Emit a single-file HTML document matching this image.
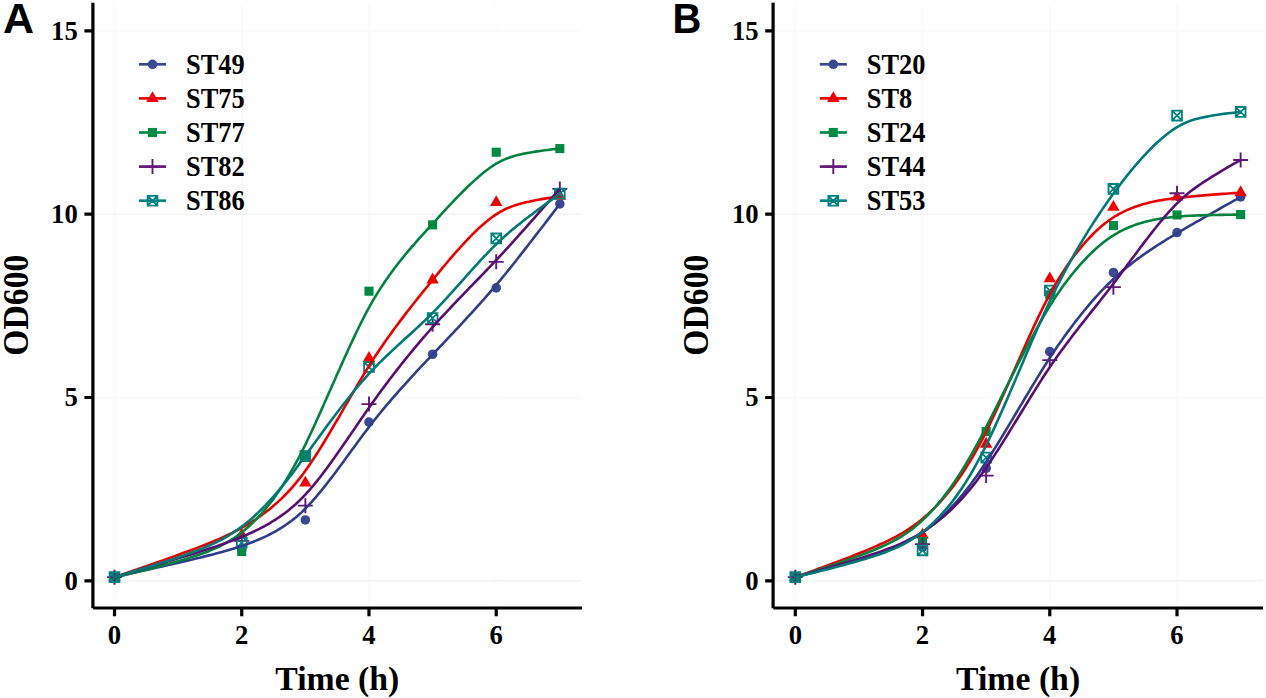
<!DOCTYPE html>
<html><head><meta charset="utf-8"><title>Growth curves</title>
<style>html,body{margin:0;padding:0;background:#fff;}body{width:1266px;height:698px;overflow:hidden;}svg{display:block;}</style>
</head><body>
<svg width="1266" height="698" viewBox="0 0 1266 698">
<rect width="1266" height="698" fill="#fff"/>
<path d="M94.40 397.50H582.10M94.40 30.90H582.10M114.50 2.70V606.80M241.74 2.70V606.80M368.98 2.70V606.80M496.22 2.70V606.80" stroke="#fbfbfb" stroke-width="1.8" fill="none"/>
<path d="M94.40 580.80H582.10M94.40 214.20H582.10" stroke="#f4f4f4" stroke-width="1.6" fill="none"/>
<circle cx="114.50" cy="577.13" r="4.8" fill="#3B4992"/>
<circle cx="241.74" cy="549.64" r="4.8" fill="#3B4992"/>
<circle cx="305.36" cy="519.94" r="4.8" fill="#3B4992"/>
<circle cx="368.98" cy="422.06" r="4.8" fill="#3B4992"/>
<circle cx="432.60" cy="354.24" r="4.8" fill="#3B4992"/>
<circle cx="496.22" cy="287.89" r="4.8" fill="#3B4992"/>
<circle cx="559.84" cy="203.94" r="4.8" fill="#3B4992"/>
<polygon points="114.50,569.87 120.70,580.77 108.30,580.77" fill="#EE0000"/>
<polygon points="241.74,527.71 247.94,538.61 235.54,538.61" fill="#EE0000"/>
<polygon points="305.36,475.65 311.56,486.55 299.16,486.55" fill="#EE0000"/>
<polygon points="368.98,351.01 375.18,361.91 362.78,361.91" fill="#EE0000"/>
<polygon points="432.60,272.55 438.80,283.45 426.40,283.45" fill="#EE0000"/>
<polygon points="496.22,195.20 502.42,206.10 490.02,206.10" fill="#EE0000"/>
<polygon points="559.84,188.97 566.04,199.87 553.64,199.87" fill="#EE0000"/>
<rect x="109.95" y="572.58" width="9.1" height="9.1" fill="#008B45"/>
<rect x="237.19" y="546.92" width="9.1" height="9.1" fill="#008B45"/>
<rect x="300.81" y="451.61" width="9.1" height="9.1" fill="#008B45"/>
<rect x="364.43" y="286.64" width="9.1" height="9.1" fill="#008B45"/>
<rect x="428.05" y="220.28" width="9.1" height="9.1" fill="#008B45"/>
<rect x="491.67" y="147.69" width="9.1" height="9.1" fill="#008B45"/>
<rect x="555.29" y="144.03" width="9.1" height="9.1" fill="#008B45"/>
<path d="M107.00 577.13H122.00M114.50 569.63V584.63" stroke="#631879" stroke-width="1.9" fill="none"/>
<path d="M234.24 540.84H249.24M241.74 533.34V548.34" stroke="#631879" stroke-width="1.9" fill="none"/>
<path d="M297.86 505.65H312.86M305.36 498.15V513.15" stroke="#631879" stroke-width="1.9" fill="none"/>
<path d="M361.48 404.10H376.48M368.98 396.60V411.60" stroke="#631879" stroke-width="1.9" fill="none"/>
<path d="M425.10 324.18H440.10M432.60 316.68V331.68" stroke="#631879" stroke-width="1.9" fill="none"/>
<path d="M488.72 261.86H503.72M496.22 254.36V269.36" stroke="#631879" stroke-width="1.9" fill="none"/>
<path d="M552.34 188.90H567.34M559.84 181.40V196.40" stroke="#631879" stroke-width="1.9" fill="none"/>
<path d="M109.60 572.23H119.40V582.03H109.60ZM109.60 572.23L119.40 582.03M109.60 582.03L119.40 572.23" stroke="#008280" stroke-width="1.8" fill="none"/>
<path d="M236.84 537.77H246.64V547.57H236.84ZM236.84 537.77L246.64 547.57M236.84 547.57L246.64 537.77" stroke="#008280" stroke-width="1.8" fill="none"/>
<path d="M300.46 451.26H310.26V461.06H300.46ZM300.46 451.26L310.26 461.06M300.46 461.06L310.26 451.26" stroke="#008280" stroke-width="1.8" fill="none"/>
<path d="M364.08 362.17H373.88V371.97H364.08ZM364.08 362.17L373.88 371.97M364.08 371.97L373.88 362.17" stroke="#008280" stroke-width="1.8" fill="none"/>
<path d="M427.70 313.05H437.50V322.85H427.70ZM427.70 313.05L437.50 322.85M427.70 322.85L437.50 313.05" stroke="#008280" stroke-width="1.8" fill="none"/>
<path d="M491.32 233.50H501.12V243.30H491.32ZM491.32 233.50L501.12 243.30M491.32 243.30L501.12 233.50" stroke="#008280" stroke-width="1.8" fill="none"/>
<path d="M554.94 188.77H564.74V198.57H554.94ZM554.94 188.77L564.74 198.57M554.94 198.57L564.74 188.77" stroke="#008280" stroke-width="1.8" fill="none"/>
<path d="M114.50 577.13 L114.54 577.13 L114.79 577.07 L115.44 576.93 L116.64 576.66 L118.50 576.25 L121.08 575.68 L124.40 574.94 L128.44 574.04 L133.12 573.00 L138.34 571.83 L143.98 570.56 L149.91 569.23 L155.98 567.85 L162.09 566.47 L168.13 565.09 L174.01 563.74 L179.67 562.42 L185.08 561.16 L190.21 559.95 L195.06 558.79 L199.62 557.68 L203.91 556.63 L207.94 555.62 L211.75 554.65 L215.34 553.71 L218.76 552.80 L222.02 551.90 L225.16 551.02 L228.19 550.15 L231.14 549.27 L234.02 548.40 L236.86 547.51 L239.67 546.61 L242.45 545.69 L245.21 544.74 L247.95 543.76 L250.69 542.75 L253.42 541.70 L256.13 540.61 L258.84 539.48 L261.53 538.30 L264.21 537.08 L266.86 535.82 L269.49 534.52 L272.08 533.17 L274.64 531.78 L277.15 530.35 L279.62 528.88 L282.04 527.37 L284.40 525.84 L286.71 524.27 L288.97 522.66 L291.17 521.03 L293.31 519.37 L295.41 517.67 L297.46 515.94 L299.47 514.17 L301.46 512.36 L303.41 510.50 L305.36 508.58 L307.31 506.60 L309.26 504.54 L311.23 502.39 L313.23 500.16 L315.26 497.85 L317.32 495.43 L319.41 492.93 L321.54 490.33 L323.70 487.65 L325.89 484.89 L328.11 482.05 L330.35 479.14 L332.61 476.18 L334.89 473.17 L337.17 470.12 L339.45 467.06 L341.73 463.98 L343.99 460.91 L346.23 457.85 L348.45 454.81 L350.64 451.81 L352.80 448.85 L354.93 445.94 L357.02 443.08 L359.08 440.28 L361.11 437.53 L363.11 434.84 L365.08 432.21 L367.03 429.62 L368.98 427.07 L370.93 424.55 L372.88 422.05 L374.85 419.55 L376.85 417.06 L378.88 414.55 L380.94 412.03 L383.03 409.50 L385.16 406.95 L387.32 404.38 L389.51 401.81 L391.73 399.22 L393.97 396.63 L396.23 394.04 L398.51 391.45 L400.79 388.88 L403.07 386.33 L405.35 383.80 L407.61 381.30 L409.85 378.83 L412.07 376.41 L414.26 374.03 L416.42 371.69 L418.55 369.40 L420.64 367.16 L422.70 364.97 L424.73 362.81 L426.73 360.69 L428.70 358.60 L430.65 356.54 L432.60 354.49 L434.55 352.43 L436.50 350.37 L438.47 348.29 L440.47 346.19 L442.50 344.05 L444.56 341.88 L446.65 339.66 L448.78 337.41 L450.94 335.12 L453.13 332.79 L455.35 330.42 L457.59 328.03 L459.85 325.60 L462.13 323.15 L464.41 320.69 L466.69 318.22 L468.97 315.74 L471.23 313.27 L473.47 310.81 L475.69 308.36 L477.88 305.93 L480.04 303.52 L482.17 301.13 L484.26 298.77 L486.32 296.43 L488.35 294.12 L490.35 291.82 L492.32 289.53 L494.27 287.24 L496.22 284.95 L498.17 282.65 L500.12 280.31 L502.09 277.93 L504.10 275.49 L506.16 272.97 L508.28 270.35 L510.48 267.61 L512.77 264.74 L515.17 261.71 L517.69 258.52 L520.33 255.16 L523.10 251.61 L526.00 247.90 L529.01 244.02 L532.11 240.02 L535.28 235.92 L538.47 231.79 L541.63 227.68 L544.70 223.69 L547.62 219.90 L550.31 216.39 L552.71 213.25 L554.78 210.55 L556.48 208.33 L557.80 206.60 L558.75 205.36 L559.36 204.56 L559.69 204.13 L559.82 203.96 L559.84 203.94" stroke="#2F3D8B" stroke-width="2.6" fill="none" stroke-linejoin="round"/>
<path d="M114.50 577.13 L114.54 577.12 L114.79 577.04 L115.44 576.81 L116.64 576.41 L118.50 575.77 L121.08 574.89 L124.40 573.75 L128.44 572.36 L133.12 570.75 L138.34 568.94 L143.98 566.98 L149.91 564.91 L155.98 562.78 L162.09 560.62 L168.13 558.48 L174.01 556.37 L179.67 554.32 L185.08 552.34 L190.21 550.44 L195.06 548.62 L199.62 546.88 L203.91 545.21 L207.94 543.60 L211.75 542.05 L215.34 540.54 L218.76 539.07 L222.02 537.63 L225.16 536.19 L228.19 534.76 L231.14 533.33 L234.02 531.88 L236.86 530.41 L239.67 528.92 L242.45 527.39 L245.21 525.82 L247.95 524.19 L250.69 522.52 L253.42 520.79 L256.13 519.00 L258.84 517.15 L261.53 515.25 L264.21 513.28 L266.86 511.25 L269.49 509.17 L272.08 507.04 L274.64 504.86 L277.15 502.64 L279.62 500.37 L282.04 498.07 L284.40 495.74 L286.71 493.38 L288.97 490.99 L291.17 488.57 L293.31 486.13 L295.41 483.67 L297.46 481.18 L299.47 478.66 L301.46 476.09 L303.41 473.49 L305.36 470.82 L307.31 468.08 L309.26 465.26 L311.23 462.35 L313.23 459.34 L315.26 456.22 L317.32 453.00 L319.41 449.68 L321.54 446.24 L323.70 442.72 L325.89 439.09 L328.11 435.39 L330.35 431.61 L332.61 427.78 L334.89 423.90 L337.17 419.99 L339.45 416.06 L341.73 412.13 L343.99 408.22 L346.23 404.34 L348.45 400.50 L350.64 396.71 L352.80 392.99 L354.93 389.34 L357.02 385.77 L359.08 382.28 L361.11 378.87 L363.11 375.54 L365.08 372.29 L367.03 369.10 L368.98 365.97 L370.93 362.89 L372.88 359.84 L374.85 356.80 L376.85 353.77 L378.88 350.74 L380.94 347.70 L383.03 344.65 L385.16 341.60 L387.32 338.53 L389.51 335.45 L391.73 332.38 L393.97 329.30 L396.23 326.23 L398.51 323.17 L400.79 320.14 L403.07 317.13 L405.35 314.16 L407.61 311.23 L409.85 308.34 L412.07 305.51 L414.26 302.73 L416.42 300.01 L418.55 297.34 L420.64 294.73 L422.70 292.18 L424.73 289.67 L426.73 287.21 L428.70 284.79 L430.65 282.39 L432.60 280.00 L434.55 277.62 L436.50 275.23 L438.47 272.83 L440.47 270.40 L442.50 267.95 L444.56 265.48 L446.65 262.99 L448.78 260.47 L450.94 257.94 L453.13 255.40 L455.35 252.85 L457.59 250.31 L459.85 247.79 L462.13 245.28 L464.41 242.81 L466.69 240.38 L468.97 238.01 L471.23 235.69 L473.47 233.44 L475.69 231.27 L477.88 229.18 L480.04 227.17 L482.17 225.26 L484.26 223.43 L486.32 221.70 L488.35 220.05 L490.35 218.50 L492.32 217.02 L494.27 215.64 L496.22 214.32 L498.17 213.08 L500.12 211.91 L502.09 210.81 L504.10 209.77 L506.16 208.79 L508.28 207.86 L510.48 206.98 L512.77 206.14 L515.17 205.33 L517.69 204.55 L520.33 203.80 L523.10 203.06 L526.00 202.35 L529.01 201.66 L532.11 200.99 L535.28 200.35 L538.47 199.73 L541.63 199.15 L544.70 198.61 L547.62 198.11 L550.31 197.67 L552.71 197.29 L554.78 196.97 L556.48 196.72 L557.80 196.52 L558.75 196.39 L559.36 196.30 L559.69 196.26 L559.82 196.24 L559.84 196.24" stroke="#EA0000" stroke-width="2.6" fill="none" stroke-linejoin="round"/>
<path d="M114.50 577.13 L114.54 577.13 L114.79 577.07 L115.44 576.92 L116.64 576.65 L118.50 576.23 L121.08 575.63 L124.40 574.86 L128.44 573.91 L133.12 572.80 L138.34 571.54 L143.98 570.16 L149.91 568.68 L155.98 567.14 L162.09 565.55 L168.13 563.95 L174.01 562.34 L179.67 560.74 L185.08 559.15 L190.21 557.59 L195.06 556.03 L199.62 554.50 L203.91 552.97 L207.94 551.44 L211.75 549.90 L215.34 548.34 L218.76 546.74 L222.02 545.11 L225.16 543.42 L228.19 541.68 L231.14 539.86 L234.02 537.98 L236.86 536.01 L239.67 533.96 L242.45 531.80 L245.21 529.54 L247.95 527.17 L250.69 524.68 L253.42 522.07 L256.13 519.34 L258.84 516.49 L261.53 513.52 L264.21 510.44 L266.86 507.26 L269.49 503.97 L272.08 500.60 L274.64 497.14 L277.15 493.61 L279.62 490.02 L282.04 486.37 L284.40 482.69 L286.71 478.97 L288.97 475.23 L291.17 471.46 L293.31 467.68 L295.41 463.89 L297.46 460.08 L299.47 456.25 L301.46 452.39 L303.41 448.49 L305.36 444.55 L307.31 440.53 L309.26 436.43 L311.23 432.24 L313.23 427.94 L315.26 423.53 L317.32 419.00 L319.41 414.36 L321.54 409.61 L323.70 404.77 L325.89 399.83 L328.11 394.82 L330.35 389.74 L332.61 384.63 L334.89 379.49 L337.17 374.34 L339.45 369.21 L341.73 364.12 L343.99 359.09 L346.23 354.13 L348.45 349.27 L350.64 344.51 L352.80 339.87 L354.93 335.37 L357.02 331.00 L359.08 326.77 L361.11 322.68 L363.11 318.73 L365.08 314.90 L367.03 311.21 L368.98 307.62 L370.93 304.13 L372.88 300.72 L374.85 297.38 L376.85 294.08 L378.88 290.83 L380.94 287.61 L383.03 284.42 L385.16 281.27 L387.32 278.14 L389.51 275.05 L391.73 271.98 L393.97 268.96 L396.23 265.97 L398.51 263.03 L400.79 260.14 L403.07 257.31 L405.35 254.53 L407.61 251.81 L409.85 249.16 L412.07 246.57 L414.26 244.05 L416.42 241.60 L418.55 239.21 L420.64 236.88 L422.70 234.61 L424.73 232.38 L426.73 230.20 L428.70 228.05 L430.65 225.91 L432.60 223.79 L434.55 221.67 L436.50 219.52 L438.47 217.36 L440.47 215.18 L442.50 212.96 L444.56 210.72 L446.65 208.46 L448.78 206.17 L450.94 203.86 L453.13 201.54 L455.35 199.21 L457.59 196.88 L459.85 194.56 L462.13 192.26 L464.41 189.99 L466.69 187.75 L468.97 185.56 L471.23 183.42 L473.47 181.35 L475.69 179.34 L477.88 177.41 L480.04 175.56 L482.17 173.79 L484.26 172.10 L486.32 170.50 L488.35 168.99 L490.35 167.55 L492.32 166.20 L494.27 164.93 L496.22 163.73 L498.17 162.60 L500.12 161.54 L502.09 160.54 L504.10 159.61 L506.16 158.74 L508.28 157.92 L510.48 157.15 L512.77 156.42 L515.17 155.72 L517.69 155.06 L520.33 154.43 L523.10 153.82 L526.00 153.24 L529.01 152.69 L532.11 152.16 L535.28 151.65 L538.47 151.17 L541.63 150.72 L544.70 150.31 L547.62 149.94 L550.31 149.61 L552.71 149.33 L554.78 149.10 L556.48 148.92 L557.80 148.78 L558.75 148.68 L559.36 148.62 L559.69 148.59 L559.82 148.58 L559.84 148.58" stroke="#00843D" stroke-width="2.6" fill="none" stroke-linejoin="round"/>
<path d="M114.50 577.13 L114.54 577.12 L114.79 577.05 L115.44 576.86 L116.64 576.51 L118.50 575.97 L121.08 575.22 L124.40 574.25 L128.44 573.07 L133.12 571.70 L138.34 570.17 L143.98 568.51 L149.91 566.76 L155.98 564.96 L162.09 563.15 L168.13 561.35 L174.01 559.58 L179.67 557.87 L185.08 556.23 L190.21 554.65 L195.06 553.15 L199.62 551.72 L203.91 550.36 L207.94 549.06 L211.75 547.82 L215.34 546.62 L218.76 545.46 L222.02 544.33 L225.16 543.22 L228.19 542.12 L231.14 541.02 L234.02 539.93 L236.86 538.83 L239.67 537.72 L242.45 536.58 L245.21 535.42 L247.95 534.23 L250.69 533.01 L253.42 531.74 L256.13 530.44 L258.84 529.10 L261.53 527.71 L264.21 526.28 L266.86 524.81 L269.49 523.29 L272.08 521.74 L274.64 520.14 L277.15 518.51 L279.62 516.85 L282.04 515.16 L284.40 513.43 L286.71 511.68 L288.97 509.91 L291.17 508.10 L293.31 506.27 L295.41 504.42 L297.46 502.53 L299.47 500.61 L301.46 498.65 L303.41 496.65 L305.36 494.59 L307.31 492.46 L309.26 490.27 L311.23 487.99 L313.23 485.62 L315.26 483.16 L317.32 480.60 L319.41 477.95 L321.54 475.20 L323.70 472.37 L325.89 469.45 L328.11 466.45 L330.35 463.38 L332.61 460.24 L334.89 457.06 L337.17 453.84 L339.45 450.59 L341.73 447.33 L343.99 444.07 L346.23 440.82 L348.45 437.59 L350.64 434.39 L352.80 431.23 L354.93 428.11 L357.02 425.04 L359.08 422.03 L361.11 419.07 L363.11 416.17 L365.08 413.31 L367.03 410.49 L368.98 407.70 L370.93 404.94 L372.88 402.18 L374.85 399.42 L376.85 396.65 L378.88 393.86 L380.94 391.06 L383.03 388.22 L385.16 385.37 L387.32 382.49 L389.51 379.59 L391.73 376.68 L393.97 373.77 L396.23 370.85 L398.51 367.94 L400.79 365.05 L403.07 362.17 L405.35 359.33 L407.61 356.53 L409.85 353.77 L412.07 351.06 L414.26 348.41 L416.42 345.82 L418.55 343.29 L420.64 340.82 L422.70 338.41 L424.73 336.06 L426.73 333.76 L428.70 331.51 L430.65 329.30 L432.60 327.11 L434.55 324.95 L436.50 322.79 L438.47 320.62 L440.47 318.45 L442.50 316.25 L444.56 314.04 L446.65 311.80 L448.78 309.54 L450.94 307.25 L453.13 304.95 L455.35 302.62 L457.59 300.27 L459.85 297.91 L462.13 295.55 L464.41 293.18 L466.69 290.82 L468.97 288.46 L471.23 286.13 L473.47 283.81 L475.69 281.51 L477.88 279.25 L480.04 277.01 L482.17 274.81 L484.26 272.64 L486.32 270.49 L488.35 268.38 L490.35 266.29 L492.32 264.21 L494.27 262.15 L496.22 260.09 L498.17 258.01 L500.12 255.92 L502.09 253.79 L504.10 251.61 L506.16 249.37 L508.28 247.05 L510.48 244.63 L512.77 242.09 L515.17 239.42 L517.69 236.61 L520.33 233.66 L523.10 230.55 L526.00 227.29 L529.01 223.90 L532.11 220.39 L535.28 216.81 L538.47 213.20 L541.63 209.62 L544.70 206.13 L547.62 202.82 L550.31 199.76 L552.71 197.02 L554.78 194.67 L556.48 192.73 L557.80 191.23 L558.75 190.15 L559.36 189.45 L559.69 189.07 L559.82 188.93 L559.84 188.90" stroke="#580F71" stroke-width="2.6" fill="none" stroke-linejoin="round"/>
<path d="M114.50 577.13 L114.54 577.12 L114.79 577.05 L115.44 576.86 L116.64 576.51 L118.50 575.97 L121.08 575.21 L124.40 574.22 L128.44 573.01 L133.12 571.60 L138.34 570.01 L143.98 568.28 L149.91 566.44 L155.98 564.53 L162.09 562.58 L168.13 560.62 L174.01 558.67 L179.67 556.75 L185.08 554.87 L190.21 553.03 L195.06 551.24 L199.62 549.49 L203.91 547.77 L207.94 546.07 L211.75 544.39 L215.34 542.72 L218.76 541.03 L222.02 539.33 L225.16 537.60 L228.19 535.82 L231.14 534.00 L234.02 532.12 L236.86 530.19 L239.67 528.18 L242.45 526.10 L245.21 523.95 L247.95 521.71 L250.69 519.39 L253.42 516.98 L256.13 514.50 L258.84 511.93 L261.53 509.29 L264.21 506.59 L266.86 503.83 L269.49 501.01 L272.08 498.15 L274.64 495.26 L277.15 492.35 L279.62 489.43 L282.04 486.50 L284.40 483.59 L286.71 480.68 L288.97 477.80 L291.17 474.94 L293.31 472.11 L295.41 469.32 L297.46 466.55 L299.47 463.82 L301.46 461.10 L303.41 458.41 L305.36 455.73 L307.31 453.04 L309.26 450.34 L311.23 447.62 L313.23 444.86 L315.26 442.07 L317.32 439.24 L319.41 436.37 L321.54 433.46 L323.70 430.51 L325.89 427.54 L328.11 424.54 L330.35 421.53 L332.61 418.51 L334.89 415.49 L337.17 412.48 L339.45 409.49 L341.73 406.54 L343.99 403.62 L346.23 400.76 L348.45 397.96 L350.64 395.21 L352.80 392.54 L354.93 389.94 L357.02 387.42 L359.08 384.97 L361.11 382.59 L363.11 380.29 L365.08 378.05 L367.03 375.87 L368.98 373.73 L370.93 371.64 L372.88 369.57 L374.85 367.52 L376.85 365.48 L378.88 363.44 L380.94 361.40 L383.03 359.36 L385.16 357.30 L387.32 355.24 L389.51 353.17 L391.73 351.09 L393.97 349.00 L396.23 346.91 L398.51 344.82 L400.79 342.73 L403.07 340.65 L405.35 338.57 L407.61 336.51 L409.85 334.46 L412.07 332.43 L414.26 330.42 L416.42 328.42 L418.55 326.45 L420.64 324.49 L422.70 322.55 L424.73 320.62 L426.73 318.69 L428.70 316.76 L430.65 314.83 L432.60 312.88 L434.55 310.89 L436.50 308.87 L438.47 306.81 L440.47 304.69 L442.50 302.52 L444.56 300.30 L446.65 298.02 L448.78 295.68 L450.94 293.30 L453.13 290.87 L455.35 288.40 L457.59 285.90 L459.85 283.37 L462.13 280.83 L464.41 278.27 L466.69 275.72 L468.97 273.19 L471.23 270.67 L473.47 268.19 L475.69 265.74 L477.88 263.34 L480.04 260.98 L482.17 258.69 L484.26 256.45 L486.32 254.27 L488.35 252.15 L490.35 250.09 L492.32 248.08 L494.27 246.12 L496.22 244.20 L498.17 242.32 L500.12 240.46 L502.09 238.63 L504.10 236.81 L506.16 234.98 L508.28 233.14 L510.48 231.27 L512.77 229.35 L515.17 227.38 L517.69 225.35 L520.33 223.25 L523.10 221.08 L526.00 218.83 L529.01 216.52 L532.11 214.16 L535.28 211.77 L538.47 209.38 L541.63 207.03 L544.70 204.75 L547.62 202.60 L550.31 200.62 L552.71 198.85 L554.78 197.34 L556.48 196.10 L557.80 195.15 L558.75 194.46 L559.36 194.02 L559.69 193.78 L559.82 193.68 L559.84 193.67" stroke="#007977" stroke-width="2.6" fill="none" stroke-linejoin="round"/>
<path d="M92.90 2.70V608.30" stroke="#000" stroke-width="3.2" fill="none"/>
<path d="M93.10 608.10H582.10" stroke="#000" stroke-width="3.0" fill="none"/>
<path d="M84.40 580.80H92.90M84.40 397.50H92.90M84.40 214.20H92.90M84.40 30.90H92.90M114.50 608.30V616.2M241.74 608.30V616.2M368.98 608.30V616.2M496.22 608.30V616.2" stroke="#000" stroke-width="3.2" fill="none"/>
<text transform="translate(77.80 589.60) scale(0.95 1)" text-anchor="end" style="font-family:&quot;Liberation Serif&quot;,serif;font-weight:bold;font-size:28.1px">0</text>
<text transform="translate(77.80 406.30) scale(0.95 1)" text-anchor="end" style="font-family:&quot;Liberation Serif&quot;,serif;font-weight:bold;font-size:28.1px">5</text>
<text transform="translate(77.80 223.00) scale(0.95 1)" text-anchor="end" style="font-family:&quot;Liberation Serif&quot;,serif;font-weight:bold;font-size:28.1px">10</text>
<text transform="translate(77.80 39.70) scale(0.95 1)" text-anchor="end" style="font-family:&quot;Liberation Serif&quot;,serif;font-weight:bold;font-size:28.1px">15</text>
<text transform="translate(114.50 644.00) scale(0.95 1)" text-anchor="middle" style="font-family:&quot;Liberation Serif&quot;,serif;font-weight:bold;font-size:28.1px">0</text>
<text transform="translate(241.74 644.00) scale(0.95 1)" text-anchor="middle" style="font-family:&quot;Liberation Serif&quot;,serif;font-weight:bold;font-size:28.1px">2</text>
<text transform="translate(368.98 644.00) scale(0.95 1)" text-anchor="middle" style="font-family:&quot;Liberation Serif&quot;,serif;font-weight:bold;font-size:28.1px">4</text>
<text transform="translate(496.22 644.00) scale(0.95 1)" text-anchor="middle" style="font-family:&quot;Liberation Serif&quot;,serif;font-weight:bold;font-size:28.1px">6</text>
<text transform="translate(337.30 689.50) scale(0.973 1)" text-anchor="middle" style="font-family:&quot;Liberation Serif&quot;,serif;font-weight:bold;font-size:34.7px">Time (h)</text>
<text transform="translate(27.50 305.20) rotate(-90) scale(0.955 1)" text-anchor="middle" style="font-family:&quot;Liberation Serif&quot;,serif;font-weight:bold;font-size:35.3px">OD600</text>
<path d="M139.00 64.30H166.10" stroke="#3B4992" stroke-width="2.7" fill="none"/>
<circle cx="152.50" cy="64.30" r="4.8" fill="#3B4992"/>
<text transform="translate(186.00 73.70) scale(0.93 1)" style="font-family:&quot;Liberation Serif&quot;,serif;font-weight:bold;font-size:28.4px">ST49</text>
<path d="M139.00 98.40H166.10" stroke="#EE0000" stroke-width="2.7" fill="none"/>
<polygon points="152.50,91.13 158.70,102.03 146.30,102.03" fill="#EE0000"/>
<text transform="translate(186.00 107.80) scale(0.93 1)" style="font-family:&quot;Liberation Serif&quot;,serif;font-weight:bold;font-size:28.4px">ST75</text>
<path d="M139.00 132.50H166.10" stroke="#008B45" stroke-width="2.7" fill="none"/>
<rect x="147.95" y="127.95" width="9.1" height="9.1" fill="#008B45"/>
<text transform="translate(186.00 141.90) scale(0.93 1)" style="font-family:&quot;Liberation Serif&quot;,serif;font-weight:bold;font-size:28.4px">ST77</text>
<path d="M139.00 166.60H166.10" stroke="#631879" stroke-width="2.7" fill="none"/>
<path d="M145.00 166.60H160.00M152.50 159.10V174.10" stroke="#631879" stroke-width="1.9" fill="none"/>
<text transform="translate(186.00 176.00) scale(0.93 1)" style="font-family:&quot;Liberation Serif&quot;,serif;font-weight:bold;font-size:28.4px">ST82</text>
<path d="M139.00 200.70H166.10" stroke="#008280" stroke-width="2.7" fill="none"/>
<path d="M147.60 195.80H157.40V205.60H147.60ZM147.60 195.80L157.40 205.60M147.60 205.60L157.40 195.80" stroke="#008280" stroke-width="1.8" fill="none"/>
<text transform="translate(186.00 210.10) scale(0.93 1)" style="font-family:&quot;Liberation Serif&quot;,serif;font-weight:bold;font-size:28.4px">ST86</text>
<path d="M774.60 397.50H1262.90M774.60 30.90H1262.90M795.30 2.70V606.80M922.54 2.70V606.80M1049.78 2.70V606.80M1177.02 2.70V606.80" stroke="#fbfbfb" stroke-width="1.8" fill="none"/>
<path d="M774.60 580.80H1262.90M774.60 214.20H1262.90" stroke="#f4f4f4" stroke-width="1.6" fill="none"/>
<circle cx="795.30" cy="577.13" r="4.8" fill="#3B4992"/>
<circle cx="922.54" cy="547.07" r="4.8" fill="#3B4992"/>
<circle cx="986.16" cy="468.25" r="4.8" fill="#3B4992"/>
<circle cx="1049.78" cy="351.67" r="4.8" fill="#3B4992"/>
<circle cx="1113.40" cy="272.49" r="4.8" fill="#3B4992"/>
<circle cx="1177.02" cy="232.53" r="4.8" fill="#3B4992"/>
<circle cx="1240.64" cy="196.97" r="4.8" fill="#3B4992"/>
<polygon points="795.30,569.87 801.50,580.77 789.10,580.77" fill="#EE0000"/>
<polygon points="922.54,527.71 928.74,538.61 916.34,538.61" fill="#EE0000"/>
<polygon points="986.16,436.79 992.36,447.69 979.96,447.69" fill="#EE0000"/>
<polygon points="1049.78,271.45 1055.98,282.35 1043.58,282.35" fill="#EE0000"/>
<polygon points="1113.40,199.97 1119.60,210.87 1107.20,210.87" fill="#EE0000"/>
<polygon points="1177.02,189.70 1183.22,200.60 1170.82,200.60" fill="#EE0000"/>
<polygon points="1240.64,185.30 1246.84,196.20 1234.44,196.20" fill="#EE0000"/>
<rect x="790.75" y="572.58" width="9.1" height="9.1" fill="#008B45"/>
<rect x="917.99" y="537.02" width="9.1" height="9.1" fill="#008B45"/>
<rect x="981.61" y="427.04" width="9.1" height="9.1" fill="#008B45"/>
<rect x="1045.23" y="290.30" width="9.1" height="9.1" fill="#008B45"/>
<rect x="1108.85" y="221.01" width="9.1" height="9.1" fill="#008B45"/>
<rect x="1172.47" y="210.38" width="9.1" height="9.1" fill="#008B45"/>
<rect x="1236.09" y="210.02" width="9.1" height="9.1" fill="#008B45"/>
<path d="M787.80 577.13H802.80M795.30 569.63V584.63" stroke="#631879" stroke-width="1.9" fill="none"/>
<path d="M915.04 544.14H930.04M922.54 536.64V551.64" stroke="#631879" stroke-width="1.9" fill="none"/>
<path d="M978.66 475.59H993.66M986.16 468.09V483.09" stroke="#631879" stroke-width="1.9" fill="none"/>
<path d="M1042.28 360.11H1057.28M1049.78 352.61V367.61" stroke="#631879" stroke-width="1.9" fill="none"/>
<path d="M1105.90 287.15H1120.90M1113.40 279.65V294.65" stroke="#631879" stroke-width="1.9" fill="none"/>
<path d="M1169.52 193.30H1184.52M1177.02 185.80V200.80" stroke="#631879" stroke-width="1.9" fill="none"/>
<path d="M1233.14 159.94H1248.14M1240.64 152.44V167.44" stroke="#631879" stroke-width="1.9" fill="none"/>
<path d="M790.40 572.23H800.20V582.03H790.40ZM790.40 572.23L800.20 582.03M790.40 582.03L800.20 572.23" stroke="#008280" stroke-width="1.8" fill="none"/>
<path d="M917.64 545.47H927.44V555.27H917.64ZM917.64 545.47L927.44 555.27M917.64 555.27L927.44 545.47" stroke="#008280" stroke-width="1.8" fill="none"/>
<path d="M981.26 452.72H991.06V462.52H981.26ZM981.26 452.72L991.06 462.52M981.26 462.52L991.06 452.72" stroke="#008280" stroke-width="1.8" fill="none"/>
<path d="M1044.88 285.55H1054.68V295.35H1044.88ZM1044.88 285.55L1054.68 295.35M1044.88 295.35L1054.68 285.55" stroke="#008280" stroke-width="1.8" fill="none"/>
<path d="M1108.50 184.00H1118.30V193.80H1108.50ZM1108.50 184.00L1118.30 193.80M1108.50 193.80L1118.30 184.00" stroke="#008280" stroke-width="1.8" fill="none"/>
<path d="M1172.12 110.68H1181.92V120.48H1172.12ZM1172.12 110.68L1181.92 120.48M1172.12 120.48L1181.92 110.68" stroke="#008280" stroke-width="1.8" fill="none"/>
<path d="M1235.74 107.02H1245.54V116.82H1235.74ZM1235.74 107.02L1245.54 116.82M1235.74 116.82L1245.54 107.02" stroke="#008280" stroke-width="1.8" fill="none"/>
<path d="M795.30 577.13 L795.34 577.12 L795.59 577.06 L796.24 576.89 L797.44 576.59 L799.30 576.11 L801.88 575.45 L805.20 574.58 L809.24 573.52 L813.92 572.29 L819.14 570.89 L824.78 569.37 L830.71 567.75 L836.78 566.07 L842.89 564.36 L848.93 562.63 L854.81 560.92 L860.47 559.22 L865.88 557.56 L871.01 555.94 L875.86 554.35 L880.42 552.79 L884.71 551.27 L888.74 549.76 L892.55 548.26 L896.14 546.77 L899.56 545.26 L902.82 543.74 L905.96 542.18 L908.99 540.59 L911.94 538.95 L914.82 537.26 L917.66 535.51 L920.47 533.70 L923.25 531.81 L926.01 529.85 L928.75 527.80 L931.49 525.67 L934.22 523.45 L936.93 521.15 L939.64 518.76 L942.33 516.28 L945.01 513.73 L947.66 511.11 L950.29 508.41 L952.88 505.66 L955.44 502.86 L957.95 500.02 L960.42 497.15 L962.84 494.24 L965.20 491.32 L967.51 488.39 L969.77 485.46 L971.97 482.52 L974.11 479.59 L976.21 476.66 L978.26 473.73 L980.27 470.81 L982.26 467.87 L984.21 464.93 L986.16 461.96 L988.11 458.95 L990.06 455.90 L992.03 452.78 L994.03 449.59 L996.06 446.33 L998.12 442.99 L1000.21 439.56 L1002.34 436.07 L1004.50 432.49 L1006.69 428.85 L1008.91 425.15 L1011.15 421.40 L1013.41 417.61 L1015.69 413.79 L1017.97 409.96 L1020.25 406.12 L1022.53 402.30 L1024.79 398.51 L1027.03 394.76 L1029.25 391.06 L1031.44 387.41 L1033.60 383.84 L1035.73 380.33 L1037.82 376.91 L1039.88 373.56 L1041.91 370.30 L1043.91 367.10 L1045.88 363.98 L1047.83 360.92 L1049.78 357.91 L1051.73 354.93 L1053.68 351.98 L1055.65 349.04 L1057.65 346.10 L1059.68 343.17 L1061.74 340.22 L1063.83 337.27 L1065.96 334.32 L1068.12 331.36 L1070.31 328.40 L1072.53 325.45 L1074.77 322.51 L1077.03 319.59 L1079.31 316.70 L1081.59 313.85 L1083.87 311.04 L1086.15 308.29 L1088.41 305.59 L1090.65 302.96 L1092.87 300.41 L1095.06 297.93 L1097.22 295.53 L1099.35 293.21 L1101.44 290.97 L1103.50 288.81 L1105.53 286.72 L1107.53 284.71 L1109.50 282.76 L1111.45 280.87 L1113.40 279.03 L1115.35 277.22 L1117.30 275.45 L1119.27 273.70 L1121.27 271.96 L1123.30 270.24 L1125.36 268.53 L1127.45 266.82 L1129.58 265.12 L1131.74 263.42 L1133.93 261.74 L1136.15 260.06 L1138.39 258.40 L1140.65 256.75 L1142.93 255.12 L1145.21 253.52 L1147.49 251.94 L1149.77 250.38 L1152.03 248.86 L1154.27 247.38 L1156.49 245.93 L1158.68 244.51 L1160.84 243.14 L1162.97 241.80 L1165.06 240.49 L1167.12 239.22 L1169.15 237.99 L1171.15 236.78 L1173.12 235.59 L1175.07 234.42 L1177.02 233.26 L1178.97 232.11 L1180.92 230.96 L1182.89 229.80 L1184.90 228.62 L1186.96 227.43 L1189.08 226.20 L1191.28 224.93 L1193.57 223.61 L1195.97 222.23 L1198.49 220.79 L1201.13 219.28 L1203.90 217.70 L1206.80 216.06 L1209.81 214.35 L1212.91 212.59 L1216.08 210.80 L1219.27 209.00 L1222.43 207.22 L1225.50 205.49 L1228.42 203.84 L1231.11 202.33 L1233.51 200.98 L1235.58 199.81 L1237.28 198.85 L1238.60 198.11 L1239.55 197.58 L1240.16 197.24 L1240.49 197.05 L1240.62 196.98 L1240.64 196.97" stroke="#2F3D8B" stroke-width="2.6" fill="none" stroke-linejoin="round"/>
<path d="M795.30 577.13 L795.34 577.12 L795.59 577.03 L796.24 576.80 L797.44 576.38 L799.30 575.72 L801.88 574.81 L805.20 573.62 L809.24 572.17 L813.92 570.47 L819.14 568.57 L824.78 566.49 L830.71 564.29 L836.78 562.01 L842.89 559.69 L848.93 557.36 L854.81 555.05 L860.47 552.79 L865.88 550.58 L871.01 548.42 L875.86 546.33 L880.42 544.30 L884.71 542.32 L888.74 540.37 L892.55 538.46 L896.14 536.56 L899.56 534.66 L902.82 532.76 L905.96 530.82 L908.99 528.86 L911.94 526.85 L914.82 524.79 L917.66 522.67 L920.47 520.48 L923.25 518.20 L926.01 515.84 L928.75 513.38 L931.49 510.82 L934.22 508.15 L936.93 505.38 L939.64 502.51 L942.33 499.53 L945.01 496.45 L947.66 493.28 L950.29 490.01 L952.88 486.67 L955.44 483.26 L957.95 479.78 L960.42 476.25 L962.84 472.67 L965.20 469.06 L967.51 465.41 L969.77 461.75 L971.97 458.06 L974.11 454.36 L976.21 450.64 L978.26 446.91 L980.27 443.15 L982.26 439.36 L984.21 435.54 L986.16 431.65 L988.11 427.70 L990.06 423.66 L992.03 419.51 L994.03 415.26 L996.06 410.89 L998.12 406.40 L1000.21 401.79 L1002.34 397.07 L1004.50 392.25 L1006.69 387.33 L1008.91 382.32 L1011.15 377.26 L1013.41 372.14 L1015.69 366.99 L1017.97 361.84 L1020.25 356.69 L1022.53 351.58 L1024.79 346.52 L1027.03 341.53 L1029.25 336.63 L1031.44 331.83 L1033.60 327.15 L1035.73 322.59 L1037.82 318.17 L1039.88 313.87 L1041.91 309.72 L1043.91 305.70 L1045.88 301.80 L1047.83 298.03 L1049.78 294.36 L1051.73 290.79 L1053.68 287.29 L1055.65 283.85 L1057.65 280.47 L1059.68 277.14 L1061.74 273.85 L1063.83 270.60 L1065.96 267.39 L1068.12 264.23 L1070.31 261.12 L1072.53 258.07 L1074.77 255.08 L1077.03 252.16 L1079.31 249.32 L1081.59 246.56 L1083.87 243.89 L1086.15 241.32 L1088.41 238.85 L1090.65 236.49 L1092.87 234.24 L1095.06 232.09 L1097.22 230.06 L1099.35 228.14 L1101.44 226.33 L1103.50 224.62 L1105.53 223.01 L1107.53 221.50 L1109.50 220.07 L1111.45 218.72 L1113.40 217.44 L1115.35 216.22 L1117.30 215.05 L1119.27 213.93 L1121.27 212.86 L1123.30 211.83 L1125.36 210.84 L1127.45 209.89 L1129.58 208.98 L1131.74 208.10 L1133.93 207.26 L1136.15 206.46 L1138.39 205.70 L1140.65 204.98 L1142.93 204.30 L1145.21 203.65 L1147.49 203.05 L1149.77 202.48 L1152.03 201.95 L1154.27 201.46 L1156.49 201.01 L1158.68 200.59 L1160.84 200.20 L1162.97 199.85 L1165.06 199.52 L1167.12 199.21 L1169.15 198.93 L1171.15 198.66 L1173.12 198.41 L1175.07 198.17 L1177.02 197.95 L1178.97 197.73 L1180.92 197.51 L1182.89 197.30 L1184.90 197.09 L1186.96 196.88 L1189.08 196.68 L1191.28 196.47 L1193.57 196.26 L1195.97 196.05 L1198.49 195.83 L1201.13 195.61 L1203.90 195.38 L1206.80 195.14 L1209.81 194.90 L1212.91 194.66 L1216.08 194.41 L1219.27 194.16 L1222.43 193.92 L1225.50 193.69 L1228.42 193.47 L1231.11 193.27 L1233.51 193.09 L1235.58 192.94 L1237.28 192.82 L1238.60 192.72 L1239.55 192.65 L1240.16 192.61 L1240.49 192.58 L1240.62 192.57 L1240.64 192.57" stroke="#EA0000" stroke-width="2.6" fill="none" stroke-linejoin="round"/>
<path d="M795.30 577.13 L795.34 577.12 L795.59 577.05 L796.24 576.85 L797.44 576.48 L799.30 575.90 L801.88 575.10 L805.20 574.06 L809.24 572.78 L813.92 571.28 L819.14 569.59 L824.78 567.74 L830.71 565.77 L836.78 563.72 L842.89 561.62 L848.93 559.50 L854.81 557.38 L860.47 555.29 L865.88 553.22 L871.01 551.19 L875.86 549.20 L880.42 547.23 L884.71 545.29 L888.74 543.36 L892.55 541.43 L896.14 539.50 L899.56 537.53 L902.82 535.53 L905.96 533.47 L908.99 531.36 L911.94 529.17 L914.82 526.91 L917.66 524.56 L920.47 522.12 L923.25 519.57 L926.01 516.92 L928.75 514.15 L931.49 511.26 L934.22 508.25 L936.93 505.13 L939.64 501.89 L942.33 498.55 L945.01 495.10 L947.66 491.56 L950.29 487.94 L952.88 484.25 L955.44 480.49 L957.95 476.70 L960.42 472.86 L962.84 469.01 L965.20 465.14 L967.51 461.27 L969.77 457.41 L971.97 453.57 L974.11 449.74 L976.21 445.94 L978.26 442.16 L980.27 438.39 L982.26 434.64 L984.21 430.89 L986.16 427.13 L988.11 423.35 L990.06 419.52 L992.03 415.64 L994.03 411.69 L996.06 407.67 L998.12 403.57 L1000.21 399.40 L1002.34 395.16 L1004.50 390.85 L1006.69 386.48 L1008.91 382.06 L1011.15 377.61 L1013.41 373.13 L1015.69 368.64 L1017.97 364.16 L1020.25 359.71 L1022.53 355.29 L1024.79 350.93 L1027.03 346.64 L1029.25 342.43 L1031.44 338.32 L1033.60 334.30 L1035.73 330.40 L1037.82 326.61 L1039.88 322.93 L1041.91 319.36 L1043.91 315.90 L1045.88 312.54 L1047.83 309.28 L1049.78 306.09 L1051.73 302.98 L1053.68 299.91 L1055.65 296.89 L1057.65 293.90 L1059.68 290.94 L1061.74 288.00 L1063.83 285.09 L1065.96 282.20 L1068.12 279.35 L1070.31 276.52 L1072.53 273.74 L1074.77 271.00 L1077.03 268.31 L1079.31 265.68 L1081.59 263.12 L1083.87 260.63 L1086.15 258.23 L1088.41 255.90 L1090.65 253.67 L1092.87 251.54 L1095.06 249.50 L1097.22 247.56 L1099.35 245.72 L1101.44 243.98 L1103.50 242.33 L1105.53 240.77 L1107.53 239.30 L1109.50 237.91 L1111.45 236.59 L1113.40 235.34 L1115.35 234.15 L1117.30 233.01 L1119.27 231.91 L1121.27 230.86 L1123.30 229.85 L1125.36 228.88 L1127.45 227.94 L1129.58 227.05 L1131.74 226.19 L1133.93 225.36 L1136.15 224.58 L1138.39 223.84 L1140.65 223.13 L1142.93 222.47 L1145.21 221.84 L1147.49 221.26 L1149.77 220.71 L1152.03 220.21 L1154.27 219.74 L1156.49 219.31 L1158.68 218.92 L1160.84 218.56 L1162.97 218.24 L1165.06 217.94 L1167.12 217.67 L1169.15 217.43 L1171.15 217.21 L1173.12 217.00 L1175.07 216.82 L1177.02 216.64 L1178.97 216.48 L1180.92 216.33 L1182.89 216.19 L1184.90 216.05 L1186.96 215.93 L1189.08 215.81 L1191.28 215.70 L1193.57 215.60 L1195.97 215.50 L1198.49 215.41 L1201.13 215.33 L1203.90 215.24 L1206.80 215.17 L1209.81 215.09 L1212.91 215.02 L1216.08 214.95 L1219.27 214.89 L1222.43 214.83 L1225.50 214.78 L1228.42 214.74 L1231.11 214.69 L1233.51 214.66 L1235.58 214.63 L1237.28 214.61 L1238.60 214.59 L1239.55 214.58 L1240.16 214.57 L1240.49 214.57 L1240.62 214.57 L1240.64 214.57" stroke="#00843D" stroke-width="2.6" fill="none" stroke-linejoin="round"/>
<path d="M795.30 577.13 L795.34 577.12 L795.59 577.05 L796.24 576.88 L797.44 576.55 L799.30 576.03 L801.88 575.32 L805.20 574.39 L809.24 573.26 L813.92 571.94 L819.14 570.45 L824.78 568.84 L830.71 567.12 L836.78 565.35 L842.89 563.54 L848.93 561.73 L854.81 559.94 L860.47 558.18 L865.88 556.47 L871.01 554.80 L875.86 553.18 L880.42 551.61 L884.71 550.08 L888.74 548.58 L892.55 547.11 L896.14 545.65 L899.56 544.19 L902.82 542.73 L905.96 541.25 L908.99 539.75 L911.94 538.21 L914.82 536.64 L917.66 535.03 L920.47 533.36 L923.25 531.63 L926.01 529.84 L928.75 527.98 L931.49 526.04 L934.22 524.03 L936.93 521.95 L939.64 519.79 L942.33 517.55 L945.01 515.25 L947.66 512.88 L950.29 510.44 L952.88 507.96 L955.44 505.42 L957.95 502.85 L960.42 500.24 L962.84 497.60 L965.20 494.94 L967.51 492.26 L969.77 489.58 L971.97 486.88 L974.11 484.18 L976.21 481.48 L978.26 478.77 L980.27 476.05 L982.26 473.31 L984.21 470.56 L986.16 467.76 L988.11 464.93 L990.06 462.03 L992.03 459.07 L994.03 456.03 L996.06 452.91 L998.12 449.70 L1000.21 446.42 L1002.34 443.05 L1004.50 439.60 L1006.69 436.08 L1008.91 432.50 L1011.15 428.86 L1013.41 425.18 L1015.69 421.47 L1017.97 417.74 L1020.25 414.02 L1022.53 410.30 L1024.79 406.61 L1027.03 402.95 L1029.25 399.35 L1031.44 395.80 L1033.60 392.32 L1035.73 388.91 L1037.82 385.58 L1039.88 382.34 L1041.91 379.17 L1043.91 376.07 L1045.88 373.05 L1047.83 370.10 L1049.78 367.19 L1051.73 364.33 L1053.68 361.50 L1055.65 358.68 L1057.65 355.86 L1059.68 353.04 L1061.74 350.20 L1063.83 347.36 L1065.96 344.49 L1068.12 341.61 L1070.31 338.72 L1072.53 335.81 L1074.77 332.89 L1077.03 329.97 L1079.31 327.04 L1081.59 324.13 L1083.87 321.23 L1086.15 318.34 L1088.41 315.48 L1090.65 312.65 L1092.87 309.86 L1095.06 307.09 L1097.22 304.37 L1099.35 301.69 L1101.44 299.04 L1103.50 296.43 L1105.53 293.84 L1107.53 291.29 L1109.50 288.75 L1111.45 286.21 L1113.40 283.67 L1115.35 281.11 L1117.30 278.52 L1119.27 275.89 L1121.27 273.21 L1123.30 270.49 L1125.36 267.71 L1127.45 264.89 L1129.58 262.02 L1131.74 259.10 L1133.93 256.15 L1136.15 253.17 L1138.39 250.17 L1140.65 247.15 L1142.93 244.14 L1145.21 241.14 L1147.49 238.17 L1149.77 235.22 L1152.03 232.33 L1154.27 229.49 L1156.49 226.71 L1158.68 224.00 L1160.84 221.38 L1162.97 218.83 L1165.06 216.38 L1167.12 214.00 L1169.15 211.72 L1171.15 209.52 L1173.12 207.40 L1175.07 205.36 L1177.02 203.39 L1178.97 201.47 L1180.92 199.61 L1182.89 197.81 L1184.90 196.04 L1186.96 194.30 L1189.08 192.57 L1191.28 190.85 L1193.57 189.12 L1195.97 187.38 L1198.49 185.60 L1201.13 183.80 L1203.90 181.95 L1206.80 180.07 L1209.81 178.16 L1212.91 176.22 L1216.08 174.27 L1219.27 172.34 L1222.43 170.45 L1225.50 168.64 L1228.42 166.93 L1231.11 165.37 L1233.51 163.98 L1235.58 162.80 L1237.28 161.83 L1238.60 161.09 L1239.55 160.55 L1240.16 160.21 L1240.49 160.03 L1240.62 159.95 L1240.64 159.94" stroke="#580F71" stroke-width="2.6" fill="none" stroke-linejoin="round"/>
<path d="M795.30 577.13 L795.34 577.13 L795.59 577.07 L796.24 576.92 L797.44 576.63 L799.30 576.20 L801.88 575.58 L805.20 574.79 L809.24 573.81 L813.92 572.66 L819.14 571.36 L824.78 569.94 L830.71 568.42 L836.78 566.84 L842.89 565.22 L848.93 563.58 L854.81 561.93 L860.47 560.30 L865.88 558.68 L871.01 557.09 L875.86 555.52 L880.42 553.97 L884.71 552.43 L888.74 550.89 L892.55 549.35 L896.14 547.78 L899.56 546.20 L902.82 544.57 L905.96 542.90 L908.99 541.17 L911.94 539.37 L914.82 537.51 L917.66 535.58 L920.47 533.55 L923.25 531.43 L926.01 529.21 L928.75 526.88 L931.49 524.43 L934.22 521.87 L936.93 519.18 L939.64 516.38 L942.33 513.47 L945.01 510.44 L947.66 507.31 L950.29 504.08 L952.88 500.75 L955.44 497.35 L957.95 493.87 L960.42 490.33 L962.84 486.74 L965.20 483.10 L967.51 479.42 L969.77 475.72 L971.97 471.99 L974.11 468.24 L976.21 464.48 L978.26 460.69 L980.27 456.88 L982.26 453.04 L984.21 449.16 L986.16 445.22 L988.11 441.21 L990.06 437.11 L992.03 432.90 L994.03 428.58 L996.06 424.14 L998.12 419.58 L1000.21 414.88 L1002.34 410.07 L1004.50 405.14 L1006.69 400.11 L1008.91 394.98 L1011.15 389.77 L1013.41 384.50 L1015.69 379.18 L1017.97 373.83 L1020.25 368.49 L1022.53 363.15 L1024.79 357.85 L1027.03 352.61 L1029.25 347.43 L1031.44 342.34 L1033.60 337.35 L1035.73 332.47 L1037.82 327.69 L1039.88 323.04 L1041.91 318.50 L1043.91 314.07 L1045.88 309.75 L1047.83 305.53 L1049.78 301.39 L1051.73 297.31 L1053.68 293.28 L1055.65 289.28 L1057.65 285.29 L1059.68 281.31 L1061.74 277.33 L1063.83 273.35 L1065.96 269.37 L1068.12 265.39 L1070.31 261.41 L1072.53 257.44 L1074.77 253.50 L1077.03 249.57 L1079.31 245.69 L1081.59 241.85 L1083.87 238.06 L1086.15 234.34 L1088.41 230.69 L1090.65 227.12 L1092.87 223.64 L1095.06 220.25 L1097.22 216.95 L1099.35 213.74 L1101.44 210.63 L1103.50 207.61 L1105.53 204.68 L1107.53 201.82 L1109.50 199.03 L1111.45 196.30 L1113.40 193.61 L1115.35 190.95 L1117.30 188.31 L1119.27 185.67 L1121.27 183.04 L1123.30 180.41 L1125.36 177.77 L1127.45 175.13 L1129.58 172.49 L1131.74 169.86 L1133.93 167.24 L1136.15 164.63 L1138.39 162.04 L1140.65 159.49 L1142.93 156.97 L1145.21 154.51 L1147.49 152.10 L1149.77 149.75 L1152.03 147.48 L1154.27 145.29 L1156.49 143.19 L1158.68 141.17 L1160.84 139.25 L1162.97 137.43 L1165.06 135.69 L1167.12 134.06 L1169.15 132.51 L1171.15 131.06 L1173.12 129.69 L1175.07 128.41 L1177.02 127.19 L1178.97 126.05 L1180.92 124.98 L1182.89 123.98 L1184.90 123.04 L1186.96 122.16 L1189.08 121.33 L1191.28 120.55 L1193.57 119.81 L1195.97 119.11 L1198.49 118.44 L1201.13 117.81 L1203.90 117.20 L1206.80 116.61 L1209.81 116.05 L1212.91 115.52 L1216.08 115.01 L1219.27 114.53 L1222.43 114.08 L1225.50 113.66 L1228.42 113.29 L1231.11 112.96 L1233.51 112.68 L1235.58 112.44 L1237.28 112.26 L1238.60 112.12 L1239.55 112.02 L1240.16 111.96 L1240.49 111.93 L1240.62 111.92 L1240.64 111.92" stroke="#007977" stroke-width="2.6" fill="none" stroke-linejoin="round"/>
<path d="M773.10 2.70V608.30" stroke="#000" stroke-width="3.2" fill="none"/>
<path d="M773.30 608.10H1262.90" stroke="#000" stroke-width="3.0" fill="none"/>
<path d="M765.20 580.80H773.10M765.20 397.50H773.10M765.20 214.20H773.10M765.20 30.90H773.10M795.30 608.30V616.2M922.54 608.30V616.2M1049.78 608.30V616.2M1177.02 608.30V616.2" stroke="#000" stroke-width="3.2" fill="none"/>
<text transform="translate(758.60 589.60) scale(0.95 1)" text-anchor="end" style="font-family:&quot;Liberation Serif&quot;,serif;font-weight:bold;font-size:28.1px">0</text>
<text transform="translate(758.60 406.30) scale(0.95 1)" text-anchor="end" style="font-family:&quot;Liberation Serif&quot;,serif;font-weight:bold;font-size:28.1px">5</text>
<text transform="translate(758.60 223.00) scale(0.95 1)" text-anchor="end" style="font-family:&quot;Liberation Serif&quot;,serif;font-weight:bold;font-size:28.1px">10</text>
<text transform="translate(758.60 39.70) scale(0.95 1)" text-anchor="end" style="font-family:&quot;Liberation Serif&quot;,serif;font-weight:bold;font-size:28.1px">15</text>
<text transform="translate(795.30 644.00) scale(0.95 1)" text-anchor="middle" style="font-family:&quot;Liberation Serif&quot;,serif;font-weight:bold;font-size:28.1px">0</text>
<text transform="translate(922.54 644.00) scale(0.95 1)" text-anchor="middle" style="font-family:&quot;Liberation Serif&quot;,serif;font-weight:bold;font-size:28.1px">2</text>
<text transform="translate(1049.78 644.00) scale(0.95 1)" text-anchor="middle" style="font-family:&quot;Liberation Serif&quot;,serif;font-weight:bold;font-size:28.1px">4</text>
<text transform="translate(1177.02 644.00) scale(0.95 1)" text-anchor="middle" style="font-family:&quot;Liberation Serif&quot;,serif;font-weight:bold;font-size:28.1px">6</text>
<text transform="translate(1018.10 689.50) scale(0.973 1)" text-anchor="middle" style="font-family:&quot;Liberation Serif&quot;,serif;font-weight:bold;font-size:34.7px">Time (h)</text>
<text transform="translate(708.30 305.20) rotate(-90) scale(0.955 1)" text-anchor="middle" style="font-family:&quot;Liberation Serif&quot;,serif;font-weight:bold;font-size:35.3px">OD600</text>
<path d="M819.80 64.30H846.90" stroke="#3B4992" stroke-width="2.7" fill="none"/>
<circle cx="833.30" cy="64.30" r="4.8" fill="#3B4992"/>
<text transform="translate(866.80 73.70) scale(0.93 1)" style="font-family:&quot;Liberation Serif&quot;,serif;font-weight:bold;font-size:28.4px">ST20</text>
<path d="M819.80 98.40H846.90" stroke="#EE0000" stroke-width="2.7" fill="none"/>
<polygon points="833.30,91.13 839.50,102.03 827.10,102.03" fill="#EE0000"/>
<text transform="translate(866.80 107.80) scale(0.93 1)" style="font-family:&quot;Liberation Serif&quot;,serif;font-weight:bold;font-size:28.4px">ST8</text>
<path d="M819.80 132.50H846.90" stroke="#008B45" stroke-width="2.7" fill="none"/>
<rect x="828.75" y="127.95" width="9.1" height="9.1" fill="#008B45"/>
<text transform="translate(866.80 141.90) scale(0.93 1)" style="font-family:&quot;Liberation Serif&quot;,serif;font-weight:bold;font-size:28.4px">ST24</text>
<path d="M819.80 166.60H846.90" stroke="#631879" stroke-width="2.7" fill="none"/>
<path d="M825.80 166.60H840.80M833.30 159.10V174.10" stroke="#631879" stroke-width="1.9" fill="none"/>
<text transform="translate(866.80 176.00) scale(0.93 1)" style="font-family:&quot;Liberation Serif&quot;,serif;font-weight:bold;font-size:28.4px">ST44</text>
<path d="M819.80 200.70H846.90" stroke="#008280" stroke-width="2.7" fill="none"/>
<path d="M828.40 195.80H838.20V205.60H828.40ZM828.40 195.80L838.20 205.60M828.40 205.60L838.20 195.80" stroke="#008280" stroke-width="1.8" fill="none"/>
<text transform="translate(866.80 210.10) scale(0.93 1)" style="font-family:&quot;Liberation Serif&quot;,serif;font-weight:bold;font-size:28.4px">ST53</text>
<text x="3.0" y="33.2" style="font-family:&quot;Liberation Sans&quot;,sans-serif;font-weight:bold;font-size:43px">A</text>
<text transform="translate(672.4 33.4) scale(0.93 1)" style="font-family:&quot;Liberation Sans&quot;,sans-serif;font-weight:bold;font-size:43px">B</text>
</svg>
</body></html>
